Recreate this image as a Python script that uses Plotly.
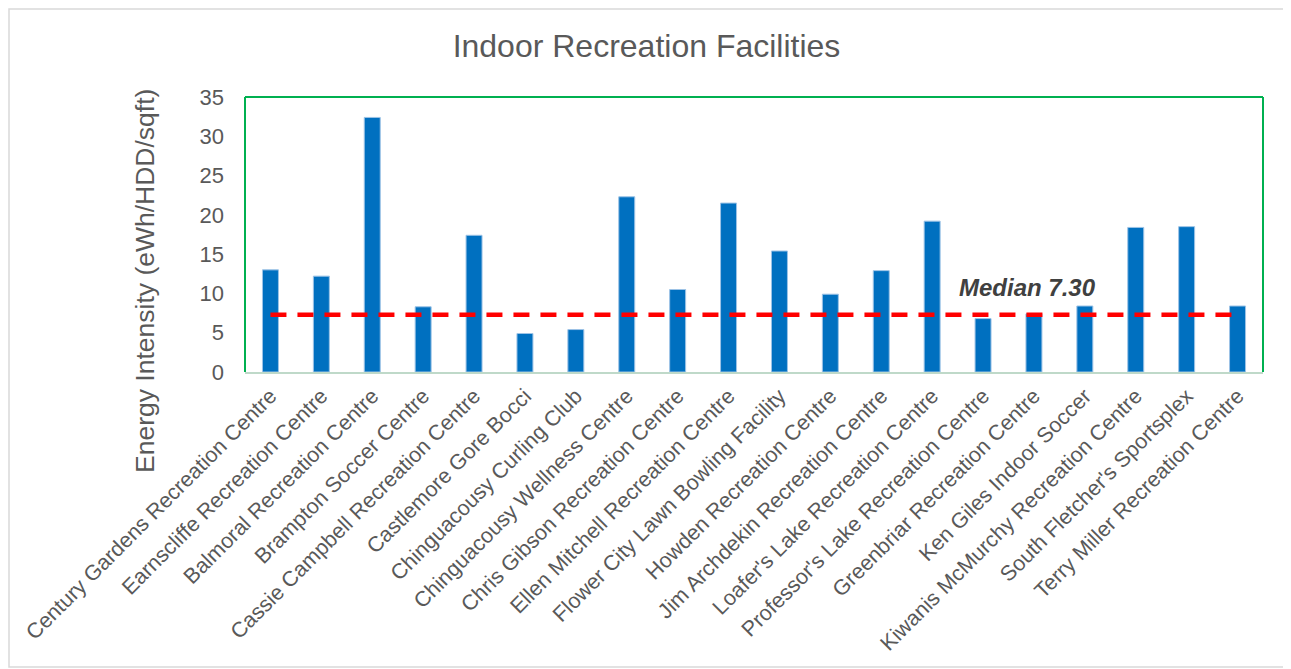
import plotly.graph_objects as go

categories = [
    "Century Gardens Recreation Centre",
    "Earnscliffe Recreation Centre",
    "Balmoral Recreation Centre",
    "Brampton Soccer Centre",
    "Cassie Campbell Recreation Centre",
    "Castlemore Gore Bocci",
    "Chinguacousy Curling Club",
    "Chinguacousy Wellness Centre",
    "Chris Gibson Recreation Centre",
    "Ellen Mitchell Recreation Centre",
    "Flower City Lawn Bowling Facility",
    "Howden Recreation Centre",
    "Jim Archdekin Recreation Centre",
    "Loafer's Lake Recreation Centre",
    "Professor's Lake Recreation Centre",
    "Greenbriar Recreation Centre",
    "Ken Giles Indoor Soccer",
    "Kiwanis McMurchy Recreation Centre",
    "South Fletcher's Sportsplex",
    "Terry Miller Recreation Centre",
]
intensity = [13.0, 12.2, 32.4, 8.3, 17.4, 4.9, 5.4, 22.3, 10.5, 21.5,
             15.4, 9.9, 12.9, 19.2, 6.8, 7.4, 8.4, 18.4, 18.5, 8.4]
median_value = 7.30
y_ticks = [0, 5, 10, 15, 20, 25, 30, 35]

# page has an 8px body margin; work in page pixels and convert
OFF = 8
PAGE_W, PAGE_H = 1291, 669
W, H = PAGE_W - OFF, PAGE_H - OFF
plot_left, plot_right, plot_top, plot_bottom = 245, 1263, 97, 372
L = plot_left - OFF
R = PAGE_W - plot_right
T = plot_top - OFF
B = PAGE_H - plot_bottom
pw, ph = plot_right - plot_left, plot_bottom - plot_top

def px_x(p):
    return (p - plot_left) / pw

def px_y(p):
    return (plot_bottom - p) / ph

gray = "#595959"
font_family = "Liberation Sans, Arial, sans-serif"

fig = go.Figure()
fig.add_trace(go.Bar(
    x=categories, y=intensity,
    marker=dict(color="#0070C0", line=dict(color="#9DC3E6", width=1)),
    showlegend=False,
))
fig.add_trace(go.Scatter(
    x=[categories[0], categories[-1]], y=[median_value, median_value],
    mode="lines",
    line=dict(color="#FF0000", width=4.5, dash="16px,11px"),
    showlegend=False,
))

fig.update_layout(
    width=W, height=H,
    margin=dict(l=L, r=R, t=T, b=B, autoexpand=False),
    paper_bgcolor="white", plot_bgcolor="white",
    bargap=0.686,
    font=dict(family=font_family, color=gray),
    title=dict(text="Indoor Recreation Facilities", x=(646.5 - OFF) / W, xanchor="center",
               y=1 - (46 - OFF) / H, yanchor="middle", yref="container",
               font=dict(size=32, color=gray, family=font_family)),
    xaxis=dict(
        type="category", tickangle=-45, tickfont=dict(size=21.5, color=gray),
        showline=True, linecolor="#BFD9C9", linewidth=2, showgrid=False,
        ticks="", ticklabelstandoff=1,
    ),
    yaxis=dict(
        range=[0, 35], tickvals=y_ticks, tickfont=dict(size=22, color=gray),
        showgrid=False, zeroline=False, showline=False, ticks="",
        ticklabelstandoff=20,
    ),
)

# plot-area border (green) on left, top, right
for (x0, y0, x1, y1) in [(0, 0, 0, 1), (0, 1, 1, 1), (1, 1, 1, 0)]:
    fig.add_shape(type="line", xref="paper", yref="paper", x0=x0, y0=y0, x1=x1, y1=y1,
                  line=dict(color="#00B050", width=2))

# outer chart border
fig.add_shape(type="rect", xref="paper", yref="paper",
              x0=px_x(OFF + 1), x1=px_x(1288), y0=px_y(OFF + 1), y1=px_y(667),
              line=dict(color="#D9D9D9", width=1.5))

# y-axis title
fig.add_annotation(text="Energy Intensity (eWh/HDD/sqft)", textangle=-90,
                   xref="paper", yref="paper", x=px_x(145), y=px_y(281),
                   xanchor="center", yanchor="middle", showarrow=False,
                   font=dict(size=26.5, color=gray, family=font_family))

# median label
fig.add_annotation(text="<b><i>Median 7.30</i></b>", xref="paper", yref="paper",
                   x=px_x(1027), y=px_y(287), xanchor="center", yanchor="middle",
                   showarrow=False, font=dict(size=24, color="#404040", family=font_family))

fig.write_html("out.html")
